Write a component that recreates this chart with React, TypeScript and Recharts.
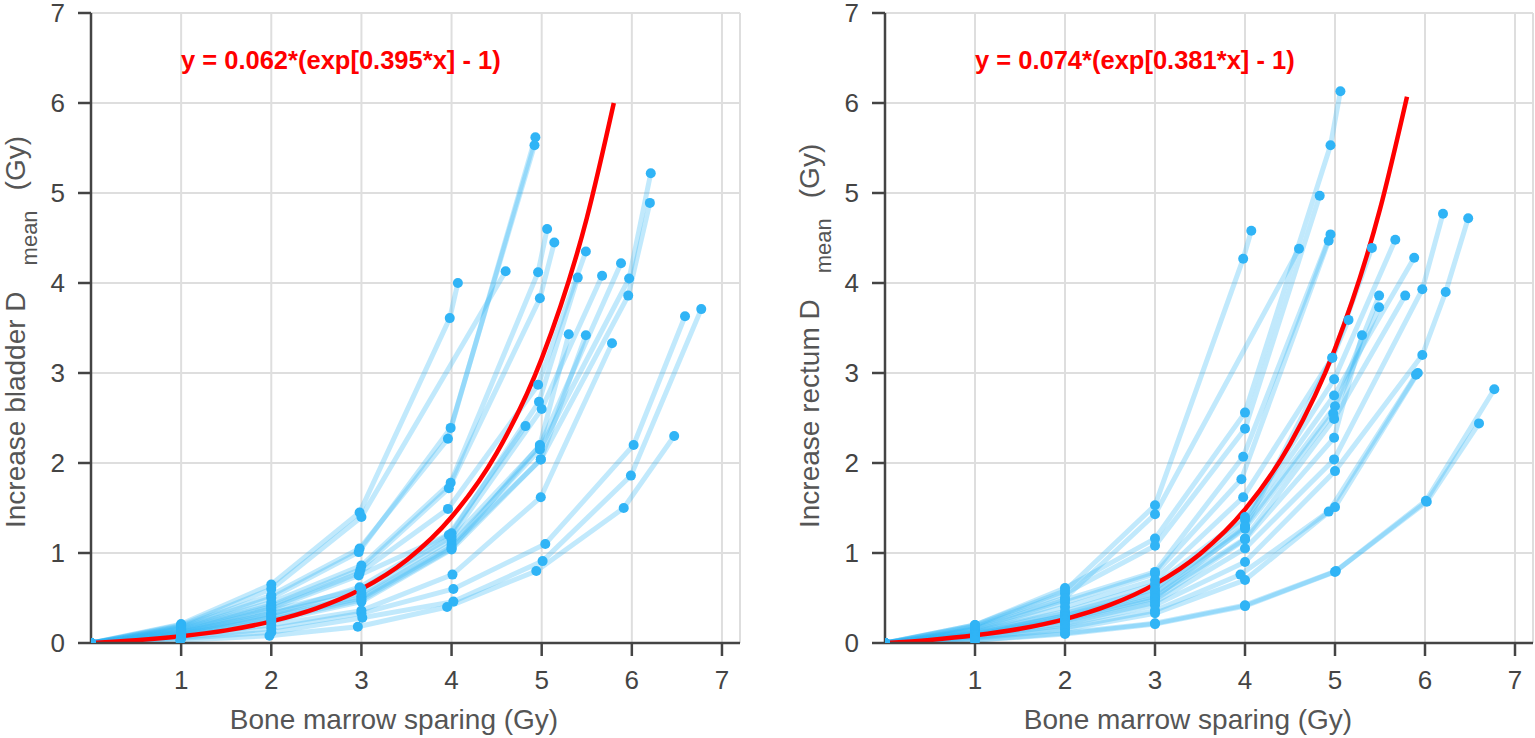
import React from 'react'
import { LineChart, Line, XAxis, YAxis, CartesianGrid } from 'recharts'

const FONT = '"Liberation Sans", Arial, Helvetica, sans-serif'

const xTicks = [1, 2, 3, 4, 5, 6, 7]
const yTicks = [0, 1, 2, 3, 4, 5, 6, 7]

// fitted curves
const fitX = [0, 0.5, 1, 1.5, 2, 2.5, 3, 3.5, 4, 4.5, 5, 5.5, 5.8]
const bladderFitY = [0, 0.03, 0.075, 0.14, 0.24, 0.385, 0.6, 0.92, 1.4, 2.11, 3.16, 4.72, 6.0]
const rectumFitY = [0, 0.034, 0.085, 0.158, 0.266, 0.423, 0.654, 0.99, 1.485, 2.21, 3.27, 4.82, 6.07]

// one list of [sparing, increase] points per patient
const bladderPatients = [
  [[0, 0], [1, 0.21], [2, 0.65], [2.98, 1.45], [3.98, 3.61], [4.07, 4.0]],
  [[0, 0], [1, 0.2], [2, 0.6], [3.0, 1.4], [4.6, 4.13]],
  [[0, 0], [1, 0.19], [2, 0.53], [2.98, 1.05], [3.96, 2.27], [4.93, 5.62]],
  [[0, 0], [1, 0.18], [2, 0.5], [2.97, 1.01], [3.99, 2.39], [4.92, 5.53]],
  [[0, 0], [1, 0.17], [2, 0.45], [3.0, 0.86], [3.99, 1.78], [4.96, 4.12], [5.06, 4.6]],
  [[0, 0], [1, 0.16], [2, 0.42], [2.99, 0.82], [3.97, 1.72], [4.98, 3.83], [5.14, 4.45]],
  [[0, 0], [1, 0.15], [2, 0.4], [2.98, 0.78], [3.96, 1.49], [4.96, 2.87], [5.49, 4.35]],
  [[0, 0], [1, 0.14], [2, 0.38], [2.97, 0.75], [4.0, 1.22], [4.97, 2.68], [5.4, 4.06]],
  [[0, 0], [1, 0.13], [2, 0.36], [3.0, 0.6], [4.0, 1.18], [5.0, 2.6], [5.67, 4.08]],
  [[0, 0], [1, 0.12], [2, 0.33], [3.0, 0.55], [4.0, 1.15], [4.98, 2.19], [5.88, 4.22]],
  [[0, 0], [1, 0.11], [2, 0.3], [3.0, 0.52], [4.0, 1.1], [4.98, 2.15], [5.97, 4.05], [6.21, 5.22]],
  [[0, 0], [1, 0.1], [2, 0.28], [3.0, 0.5], [4.0, 1.07], [4.99, 2.04], [5.96, 3.86], [6.2, 4.89]],
  [[0, 0], [1, 0.1], [2, 0.26], [3.0, 0.48], [4.0, 1.05], [4.98, 2.2], [5.3, 3.43]],
  [[0, 0], [1, 0.09], [2, 0.24], [3.0, 0.46], [4.0, 1.04], [4.99, 2.04], [5.49, 3.42]],
  [[0, 0], [1, 0.08], [2, 0.2], [3.0, 0.36], [4.01, 0.76], [4.99, 1.62], [5.78, 3.33]],
  [[0, 0], [1, 0.12], [2, 0.32], [2.98, 0.62], [3.97, 1.2], [4.82, 2.41]],
  [[0, 0], [1, 0.06], [2, 0.16], [3.0, 0.33], [4.02, 0.6], [5.04, 1.1], [6.02, 2.2], [6.59, 3.63]],
  [[0, 0], [1, 0.05], [2, 0.12], [3.01, 0.28], [4.02, 0.46], [5.01, 0.91], [5.99, 1.86], [6.77, 3.71]],
  [[0, 0], [0.99, 0.03], [1.98, 0.08], [2.96, 0.18], [3.95, 0.4], [4.94, 0.8], [5.91, 1.5], [6.47, 2.3]],
]

const rectumPatients = [
  [[0, 0], [1, 0.2], [2, 0.61], [3, 1.16], [4, 2.56], [4.95, 5.53], [5.06, 6.13]],
  [[0, 0], [1, 0.19], [2, 0.55], [3, 1.08], [4, 2.38], [4.83, 4.97]],
  [[0, 0], [1, 0.2], [2, 0.58], [3, 1.53], [3.98, 4.27], [4.07, 4.58]],
  [[0, 0], [1, 0.18], [2, 0.5], [3, 1.43], [4.6, 4.38]],
  [[0, 0], [1, 0.16], [2, 0.48], [3, 0.79], [3.98, 2.07], [4.95, 4.54]],
  [[0, 0], [1, 0.15], [2, 0.45], [3, 0.77], [3.96, 1.82], [4.93, 4.47]],
  [[0, 0], [1, 0.14], [2, 0.4], [3, 0.7], [3.98, 1.62], [4.97, 3.17], [5.41, 4.39]],
  [[0, 0], [1, 0.13], [2, 0.35], [3, 0.65], [4, 1.4], [4.99, 2.93], [5.67, 4.48]],
  [[0, 0], [1, 0.12], [2, 0.33], [3, 0.6], [4, 1.37], [4.99, 2.75], [5.88, 4.28]],
  [[0, 0], [1, 0.11], [2, 0.3], [3, 0.58], [4, 1.3], [5.0, 2.63], [5.49, 3.86]],
  [[0, 0], [1, 0.1], [2, 0.3], [3, 0.55], [4, 1.27], [4.98, 2.55], [5.49, 3.73]],
  [[0, 0], [1, 0.09], [2, 0.28], [3, 0.52], [4, 1.16], [4.99, 2.49], [5.78, 3.86]],
  [[0, 0], [1, 0.1], [2, 0.26], [3, 0.5], [4, 1.29], [4.97, 3.17], [5.15, 3.59]],
  [[0, 0], [1, 0.09], [2, 0.25], [3, 0.48], [4, 1.15], [4.99, 2.28], [5.3, 3.42]],
  [[0, 0], [1, 0.08], [2, 0.22], [3, 0.45], [4, 1.05], [4.99, 2.04], [5.97, 3.93], [6.2, 4.77]],
  [[0, 0], [1, 0.07], [2, 0.2], [3, 0.42], [4, 0.9], [5.0, 1.91], [5.97, 3.2], [6.23, 3.9], [6.48, 4.72]],
  [[0, 0], [1, 0.06], [2, 0.17], [3, 0.36], [3.95, 0.76], [4.93, 1.46], [5.9, 2.98]],
  [[0, 0], [1, 0.05], [2, 0.15], [3, 0.33], [4, 0.7], [5.0, 1.51], [5.92, 3.0]],
  [[0, 0], [1, 0.03], [2, 0.1], [3, 0.21], [4.0, 0.41], [5.0, 0.79], [6.02, 1.57], [6.6, 2.44]],
  [[0, 0], [1, 0.03], [2, 0.11], [3, 0.22], [4.0, 0.42], [5.01, 0.8], [6.01, 1.58], [6.77, 2.82]],
]

const toPoints = (pairs: number[][]) => pairs.map(([x, y]) => ({ x, y }))

interface PanelProps {
  left: number
  width: number
  marginRight: number
  patients: number[][][]
  fitY: number[]
  organ: string
  equation: string
}

const Panel: React.FC<PanelProps> = ({ left, width, marginRight, patients, fitY, organ, equation }) => {
  const fit = fitX.map((x, i) => ({ x, y: fitY[i] }))
  return (
    <div style={{ position: 'absolute', left, top: 0, width, height: 738 }}>
      <LineChart width={width} height={738} margin={{ top: 13, right: marginRight, left: 0, bottom: 0 }}>
        <CartesianGrid stroke='#dedede' strokeWidth={2} />
        <XAxis
          type='number'
          dataKey='x'
          domain={[0, 7.2]}
          ticks={xTicks}
          interval={0}
          allowDataOverflow
          height={95}
          tickSize={13}
          tickMargin={15}
          axisLine={{ stroke: '#444', strokeWidth: 2.5 }}
          tickLine={{ stroke: '#444', strokeWidth: 2.5 }}
          tick={{ fill: '#444', fontSize: 26, fontFamily: FONT }}
        />
        <YAxis
          type='number'
          domain={[0, 7]}
          ticks={yTicks}
          interval={0}
          allowDataOverflow
          width={91}
          tickSize={13}
          tickMargin={13}
          axisLine={{ stroke: '#444', strokeWidth: 2.5 }}
          tickLine={{ stroke: '#444', strokeWidth: 2.5 }}
          tick={{ fill: '#444', fontSize: 26, fontFamily: FONT }}
        />
        {patients.map((p, i) => (
          <Line
            key={organ + i}
            data={toPoints(p)}
            dataKey='y'
            type='linear'
            stroke='#33b5f5'
            strokeOpacity={0.3}
            strokeWidth={5}
            dot={{ r: 5, fill: '#30b4f6', stroke: 'none', fillOpacity: 1 }}
            activeDot={false}
            isAnimationActive={false}
          />
        ))}
        <Line
          data={fit}
          dataKey='y'
          type='monotone'
          stroke='#ff0000'
          strokeWidth={4.5}
          dot={false}
          activeDot={false}
          isAnimationActive={false}
        />
      </LineChart>
      <svg
        width={width}
        height={738}
        style={{ position: 'absolute', left: 0, top: 0, pointerEvents: 'none' }}
      >
        <text x={181} y={69} fill='#ff0000' fontWeight='bold' fontSize={25.5} fontFamily={FONT}>
          {equation}
        </text>
        <text transform='translate(25,528) rotate(-90)' fontSize={28} fill='#555' fontFamily={FONT}>
          {`Increase ${organ} D`}
          <tspan dx={26} dy={12} fontSize={22}>mean</tspan>
          <tspan dx={20} dy={-12}>(Gy)</tspan>
        </text>
        <text x={394} y={729} textAnchor='middle' fontSize={28} fill='#555' fontFamily={FONT}>
          Bone marrow sparing (Gy)
        </text>
      </svg>
    </div>
  )
}

const App: React.FC = () => {
  return (
    <div
      style={{
        position: 'absolute',
        left: 0,
        top: 0,
        width: 1535,
        height: 738,
        background: '#fff',
        overflow: 'hidden'
      }}
    >
      <Panel
        left={0}
        width={760}
        marginRight={20}
        patients={bladderPatients}
        fitY={bladderFitY}
        organ='bladder'
        equation='y = 0.062*(exp[0.395*x] - 1)'
      />
      <Panel
        left={794}
        width={741}
        marginRight={2}
        patients={rectumPatients}
        fitY={rectumFitY}
        organ='rectum'
        equation='y = 0.074*(exp[0.381*x] - 1)'
      />
    </div>
  )
}

export default App
